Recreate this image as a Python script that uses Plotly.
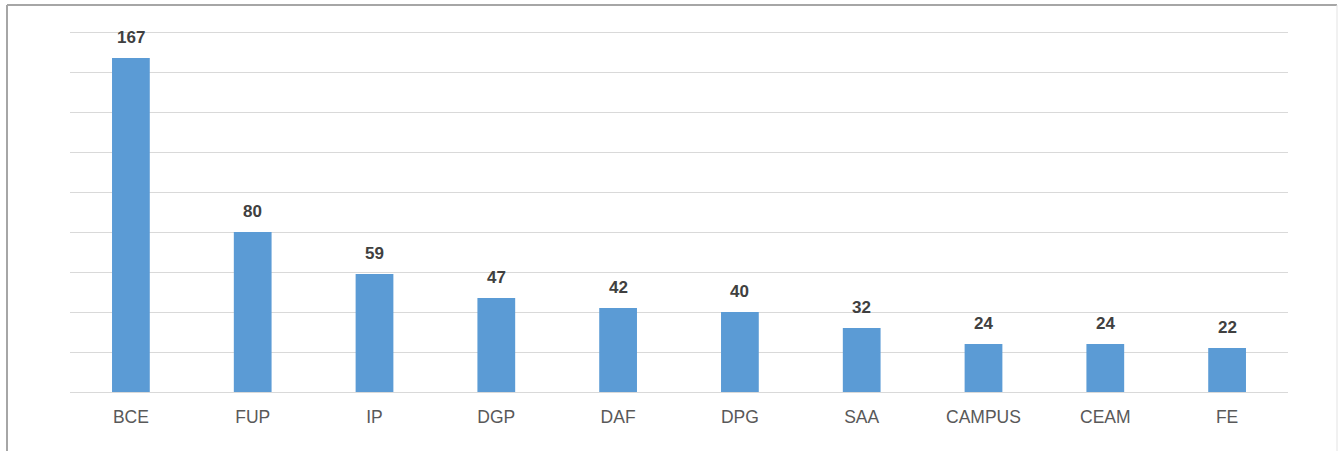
import plotly.graph_objects as go

categories = ["BCE", "FUP", "IP", "DGP", "DAF", "DPG", "SAA", "CAMPUS", "CEAM", "FE"]
values = [167, 80, 59, 47, 42, 40, 32, 24, 24, 22]

W, H = 1340, 451
YMAX = 182
L, R, T, B = 70, 52, 28, 59
pw = W - L - R
ph = H - T - B

def px_x(px):
    return (px - L) / pw

def px_y(py):
    return (H - B - py) / ph

FONT = "Liberation Sans, Arial, sans-serif"

fig = go.Figure()
fig.add_trace(go.Bar(
    x=categories, y=values,
    marker=dict(color="#5B9BD5", line=dict(width=0)),
    width=0.31,
    hoverinfo="x+y",
))

for c, v in zip(categories, values):
    fig.add_annotation(
        x=c, y=v, text="<b>%d</b>" % v, showarrow=False,
        yanchor="bottom", yshift=9,
        font=dict(family=FONT, size=17, color="#404040"),
    )

# outer chart border
fig.add_shape(type="line", xref="paper", yref="paper",
              x0=px_x(7), x1=px_x(7), y0=px_y(470), y1=px_y(5),
              line=dict(color="#a6a6a6", width=2))
fig.add_shape(type="line", xref="paper", yref="paper",
              x0=px_x(7), x1=px_x(1337), y0=px_y(5), y1=px_y(5),
              line=dict(color="#a6a6a6", width=2))
fig.add_shape(type="line", xref="paper", yref="paper",
              x0=px_x(1337), x1=px_x(1337), y0=px_y(470), y1=px_y(5),
              line=dict(color="#e3e3e3", width=1))

fig.update_layout(
    width=W, height=H,
    margin=dict(l=L, r=R, t=T, b=B, pad=0),
    paper_bgcolor="white", plot_bgcolor="white",
    showlegend=False,
    bargap=0.69,
    xaxis=dict(
        showgrid=False, showline=False, zeroline=False,
        ticks="outside", ticklen=9, tickcolor="rgba(0,0,0,0)",
        tickfont=dict(family=FONT, size=17.5, color="#595959"),
    ),
    yaxis=dict(
        range=[0, YMAX], tickvals=list(range(0, 181, 20)),
        showgrid=True, gridcolor="#d9d9d9", gridwidth=1,
        zeroline=True, zerolinecolor="#d9d9d9", zerolinewidth=1,
        showticklabels=False, showline=False,
    ),
)

fig.write_html(
    "out.html",
    config={"displayModeBar": False},
    post_script="document.body.style.margin='0px';document.body.style.padding='0px';",
)
